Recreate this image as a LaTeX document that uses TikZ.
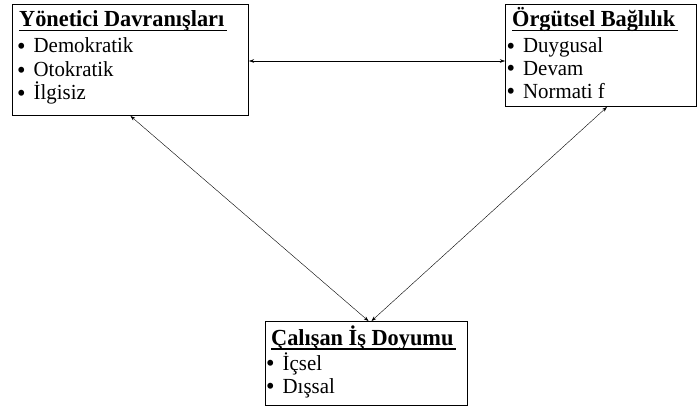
\documentclass[tikz,border=0pt]{standalone}
\usepackage{fontspec}
\setmainfont[FakeStretch=0.97]{Liberation Serif}
\newfontfamily\tfont[FakeStretch=0.97]{Liberation Serif}
\usetikzlibrary{arrows.meta}
\newcommand\myul[1]{\setbox0\hbox{#1}\rlap{\rule[-4.5pt]{\dimexpr\wd0+3pt\relax}{1.5pt}}\box0}
\newcommand\bul{\smash{\fontsize{25}{25}\selectfont\raisebox{-1.5pt}{•}}\hspace{8pt}}
\begin{document}
\begin{tikzpicture}[x=1pt,y=-1pt,
  box/.style={draw=black,line width=1pt,rectangle,inner sep=0pt,anchor=north west},
  txt/.style={anchor=base west,inner sep=0pt,font=\fontsize{21.5}{23}\selectfont},
  ttl/.style={anchor=base west,inner sep=0pt,font=\fontsize{23}{24}\tfont\bfseries},
  conn/.style={line width=0.4pt,{Stealth[length=5pt,width=3.5pt]}-{Stealth[length=5pt,width=3.5pt]}}]
\useasboundingbox (0,0) rectangle (697,409);
% boxes
\node[box,minimum width=236pt,minimum height=111pt] (L) at (12,4) {};
\node[box,minimum width=191pt,minimum height=102pt] (R) at (505,4) {};
\node[box,minimum width=202pt,minimum height=84pt] (B) at (265,321) {};
% left texts
\node[ttl] (l0) at (19,27) {\myul{Yönetici Davranışları}};
\node[txt] (l1) at (17,53) {\bul Demokratik};
\node[txt] (l2) at (17,77) {\bul Otokratik};
\node[txt] (l3) at (17,100) {\bul İlgisiz};
% right texts
\node[ttl] (r0) at (512,27) {\myul{Örgütsel Bağlılık}};
\node[txt] (r1) at (506.5,53) {\bul Duygusal};
\node[txt] (r2) at (506.5,75.5) {\bul Devam};
\node[txt] (r3) at (506.5,98.5) {\bul Normati f};
% bottom texts
\node[ttl] (b0) at (271,345) {\myul{Çalışan İş Doyumu}};
\node[txt] (b1) at (266,370) {\bul İçsel};
\node[txt] (b2) at (266,393) {\bul Dışsal};
% connectors
\draw[conn] ([yshift=-1pt]L.east) -- ([yshift=-1pt]L.east -| R.west);
\draw[conn] (L.south) -- ([xshift=2pt]B.north);
\draw[conn] ([xshift=6pt]R.south) -- ([xshift=5pt]B.north);
\end{tikzpicture}
\end{document}
